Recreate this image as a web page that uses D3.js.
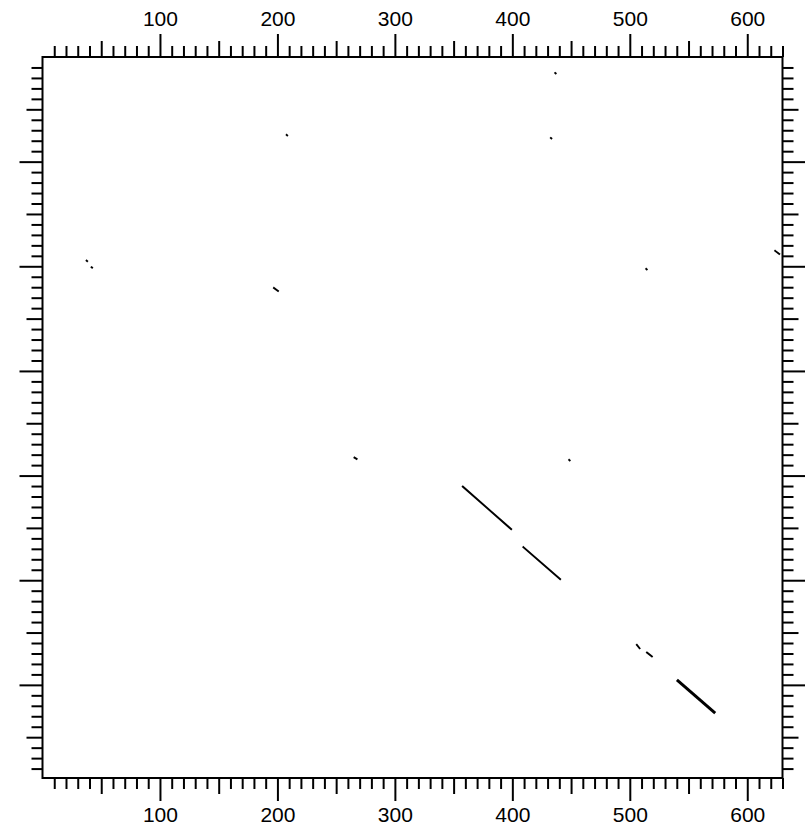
<!DOCTYPE html>
<html>
<head>
<meta charset="utf-8">
<script src="https://cdn.jsdelivr.net/npm/d3@7"></script>
<style>
  body { margin: 0; background: #fff; }
  text { font-family: "Liberation Sans", Arial, sans-serif; }
</style>
</head>
<body>
<svg width="805" height="827"></svg>
<script>
// dot plot match segments, in sequence positions (x = seq 1, y = seq 2)
var xStart = [436.5, 207.9, 432.8, 37.6, 41.8, 197.1, 514.0, 623.8, 265.6, 448.4, 357.8, 409.4, 506.0, 514.6]
var yStart = [15.3, 74.5, 77.4, 194.6, 200.9, 220.7, 202.5, 185.3, 382.8, 385.0, 410.5, 468.4, 561.8, 569.1]
var xEnd   = [436.9, 208.3, 433.2, 38.0, 42.2, 200.5, 514.4, 627.2, 267.4, 448.8, 399.0, 440.7, 508.3, 518.8]
var yEnd   = [15.7, 74.9, 77.8, 195.0, 201.3, 223.6, 202.9, 188.2, 384.0, 385.4, 451.2, 499.0, 565.0, 572.9]

// strong match (drawn heavier)
var strongStart = [540.1, 595.2]
var strongEnd = [572.7, 627.0]

var xDomain = [0, 630]
var yDomain = [0, 689]
var xLabels = [100, 200, 300, 400, 500, 600]

var svg = d3.select("svg")

var x = d3.scaleLinear().domain(xDomain).range([42.5, 782.5])
var y = d3.scaleLinear().domain(yDomain).range([57, 778])

function tickLen(v) {
    if (v % 100 == 0) return 23
    if (v % 50 == 0) return 16
    return 11
}

var xTicks = d3.range(10, 631, 10)
var yTicks = d3.range(10, 689, 10)

function styleAxis(g, labels) {
    g.select(".domain").remove()
    g.selectAll(".tick line")
        .attr("stroke", "#000")
        .attr("stroke-width", 2)
    g.selectAll(".tick text")
        .attr("font-size", 21)
        .attr("fill", "#000")
        .text(function (d) { return labels && xLabels.indexOf(d) >= 0 ? d : "" })
}

// top axis
var axisTopG = svg.append("g").attr("transform", "translate(0," + y(0) + ")")
    .call(d3.axisTop(x).tickValues(xTicks).tickSizeOuter(0))
axisTopG.selectAll(".tick line").attr("y2", function (d) { return -tickLen(d) })
axisTopG.selectAll(".tick text").attr("y", -31)
styleAxis(axisTopG, true)

// bottom axis
var axisBottomG = svg.append("g").attr("transform", "translate(0," + y(yDomain[1]) + ")")
    .call(d3.axisBottom(x).tickValues(xTicks).tickSizeOuter(0))
axisBottomG.selectAll(".tick line").attr("y2", function (d) { return tickLen(d) })
axisBottomG.selectAll(".tick text").attr("y", 29)
styleAxis(axisBottomG, true)

// left axis
var axisLeftG = svg.append("g").attr("transform", "translate(" + x(0) + ",0)")
    .call(d3.axisLeft(y).tickValues(yTicks).tickSizeOuter(0))
axisLeftG.selectAll(".tick line").attr("x2", function (d) { return -tickLen(d) })
styleAxis(axisLeftG, false)

// right axis
var axisRightG = svg.append("g").attr("transform", "translate(" + x(xDomain[1]) + ",0)")
    .call(d3.axisRight(y).tickValues(yTicks).tickSizeOuter(0))
axisRightG.selectAll(".tick line").attr("x2", function (d) { return tickLen(d) })
styleAxis(axisRightG, false)

// remove empty label nodes
svg.selectAll(".tick text").filter(function () { return this.textContent == "" }).remove()

// frame
svg.append("rect")
    .attr("x", x(0))
    .attr("y", y(0))
    .attr("width", x(xDomain[1]) - x(0))
    .attr("height", y(yDomain[1]) - y(0))
    .attr("fill", "none")
    .attr("stroke", "#000")
    .attr("stroke-width", 2)

var matches = xStart.map(function (d, i) {
    return { x1: d, y1: yStart[i], x2: xEnd[i], y2: yEnd[i] }
})

svg.append("g")
    .selectAll("line")
    .data(matches)
    .enter().append("line")
    .attr("x1", function (d) { return x(d.x1) })
    .attr("y1", function (d) { return y(d.y1) })
    .attr("x2", function (d) { return x(d.x2) })
    .attr("y2", function (d) { return y(d.y2) })
    .attr("stroke", "#000")
    .attr("stroke-width", 1.9)
    .attr("stroke-linecap", "square")

svg.append("line")
    .attr("x1", x(strongStart[0]))
    .attr("y1", y(strongStart[1]))
    .attr("x2", x(strongEnd[0]))
    .attr("y2", y(strongEnd[1]))
    .attr("stroke", "#000")
    .attr("stroke-width", 3)
</script>
</body>
</html>
